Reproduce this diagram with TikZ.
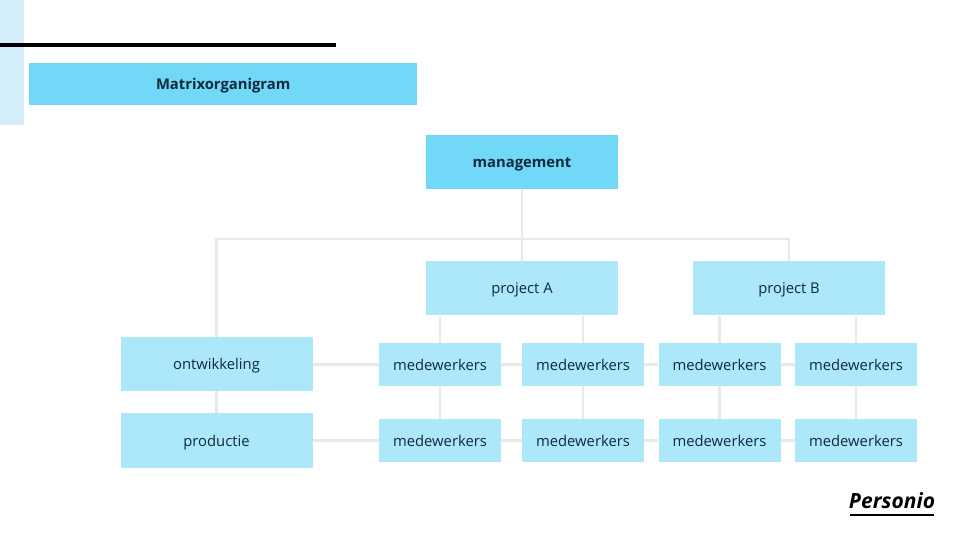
\documentclass[tikz,border=0pt]{standalone}
\usepackage{fontspec}
\usepackage{xcolor}
\setmainfont{Open Sans}
\definecolor{headblue}{HTML}{72D8F7}
\definecolor{boxblue}{HTML}{ACE7FA}
\definecolor{stripblue}{HTML}{D3EEF8}
\definecolor{linegrey}{HTML}{E8E9E9}
\definecolor{inktext}{HTML}{0E2A3D}
\begin{document}
\begin{tikzpicture}[x=1pt,y=-1pt,
            every node/.style = {shape=rectangle, inner sep=0pt, align=center,
                                 text=inktext, text height=11pt, text depth=0pt,
                                 font=\fontsize{14.8}{17}\selectfont},
            headbox/.style = {fill=headblue, font=\fontsize{14.8}{17}\selectfont\bfseries},
            unitbox/.style = {fill=boxblue, minimum width=192pt, minimum height=54.5pt},
            staffbox/.style = {fill=boxblue, minimum width=122pt, minimum height=43pt},
            link/.style = {draw=linegrey, line width=2.6pt}]
    \useasboundingbox (0,0) rectangle (960,540);
    \fill[stripblue] (0,0) rectangle (24,125);
    \fill[black] (0,43) rectangle (336,47.5);

    \node[headbox, minimum width=388.5pt, minimum height=42pt] (title) at (223.2,84) {Matrixorganigram};
    \node[headbox, minimum width=192pt, minimum height=54.5pt] (management) at (522,162) {management};
    \node[unitbox] (projectA) at (522,288.2) {project A};
    \node[unitbox] (projectB) at (789,288.2) {project B};
    \node[unitbox] (ontwikkeling) at (216.5,364) {ontwikkeling};
    \node[unitbox] (productie) at (216.5,440.5) {productie};

    % rows of medewerkers
    \foreach \name/\xpos in {a/440,b/583,c/719.5,d/856} {
        \node[staffbox] (top\name) at (\xpos,364.5) {medewerkers};
        \node[staffbox] (low\name) at (\xpos,440.5) {medewerkers};
    }

    \coordinate (bar) at (522,239);
    \draw[link] (management) -- (projectA);
    \draw[link] (bar) -| (ontwikkeling);
    \draw[link] (bar) -| (projectB);
    \draw[link] (ontwikkeling) -- (productie);
    \draw[link] (topa |- projectA.south) -- (topa);
    \draw[link] (topb |- projectA.south) -- (topb);
    \draw[link] (topc |- projectB.south) -- (topc);
    \draw[link] (topd |- projectB.south) -- (topd);
    \foreach \name in {a,b,c,d} {
        \draw[link] (top\name) -- (low\name);
    }
    \draw[link] (ontwikkeling.east |- topa) -- (topa);
    \draw[link] (productie.east |- lowa) -- (lowa);
    \foreach \from/\to in {a/b,b/c,c/d} {
        \draw[link] (top\from) -- (top\to);
        \draw[link] (low\from) -- (low\to);
    }

    % logo
    \node[font=\fontsize{21}{24}\selectfont\bfseries\itshape, text=black, text height=15pt] (logo) at (892,501) {Personio};
    \coordinate (logoleft) at (850,514.5);
    \coordinate (logoright) at (934,514.5);
    \draw[black, line width=2pt] (logoleft) -- (logoright);
\end{tikzpicture}
\end{document}
